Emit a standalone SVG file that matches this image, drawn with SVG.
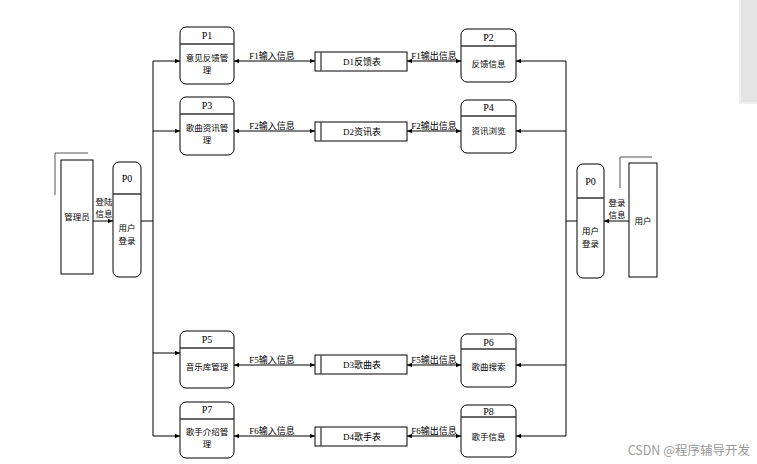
<svg xmlns="http://www.w3.org/2000/svg" width="757" height="464" viewBox="0 0 757 464">
<defs>
<marker id="ah" viewBox="0 0 8 8" refX="8" refY="4" markerWidth="5" markerHeight="5" orient="auto-start-reverse" markerUnits="userSpaceOnUse"><path d="M0,0.5 L8,4 L0,7.5 Z" fill="#000"/></marker>
<style>
.proc{fill:#fff;stroke:#000;stroke-width:1}
.div{stroke:#333;stroke-width:1.5}
.ent{fill:#fff;stroke:#000;stroke-width:1}
.sh{fill:none;stroke:#555;stroke-width:1}
.ds{fill:#fff;stroke:#000;stroke-width:1}
.dsi{stroke:#555;stroke-width:1.5}
.ln{fill:none;stroke:#000;stroke-width:1}
.a{marker-end:url(#ah)}
.b{marker-start:url(#ah);marker-end:url(#ah)}
.pid{font-family:"Liberation Serif",serif;font-size:10px;text-anchor:middle;fill:#000}
.t{font-family:"Noto Sans CJK SC","Liberation Sans",sans-serif;font-size:8.5px;text-anchor:middle;fill:#000}
.ft{font-family:"Liberation Serif","Noto Sans CJK SC",serif;font-size:9px;text-anchor:middle;fill:#000}
</style>
</defs>
<rect width="757" height="464" fill="#fff"/>
<rect x="740" y="-1" width="18" height="104" fill="#e4e4e4" stroke="#f0f0f0" stroke-width="2"/>

<g id="connectors">
<line class="ln" x1="153" y1="61" x2="153" y2="436"/>
<line class="ln" x1="141" y1="221" x2="153" y2="221"/>
<line class="ln a" x1="153" y1="61" x2="180" y2="61"/>
<line class="ln a" x1="153" y1="131" x2="180" y2="131"/>
<line class="ln a" x1="153" y1="353" x2="180" y2="353"/>
<line class="ln a" x1="153" y1="436" x2="180" y2="436"/>
<line class="ln a" x1="93" y1="221" x2="113" y2="221"/>
<line class="ln" x1="566" y1="61" x2="566" y2="436"/>
<line class="ln" x1="566" y1="221" x2="577" y2="221"/>
<line class="ln a" x1="566" y1="61" x2="516" y2="61"/>
<line class="ln a" x1="566" y1="131" x2="516" y2="131"/>
<line class="ln a" x1="566" y1="365" x2="516" y2="365"/>
<line class="ln a" x1="566" y1="436" x2="516" y2="436"/>
<line class="ln a" x1="629" y1="221" x2="604" y2="221"/>
<line class="ln b" x1="234" y1="61" x2="315" y2="61"/>
<line class="ln b" x1="407" y1="61" x2="461" y2="61"/>
<line class="ln b" x1="234" y1="131" x2="315" y2="131"/>
<line class="ln b" x1="407" y1="131" x2="461" y2="131"/>
<line class="ln b" x1="234" y1="365" x2="315" y2="365"/>
<line class="ln b" x1="407" y1="365" x2="461" y2="365"/>
<line class="ln b" x1="234" y1="436" x2="315" y2="436"/>
<line class="ln b" x1="407" y1="436" x2="461" y2="436"/>
<text class="ft" x="272" y="59">F1输入信息</text>
<text class="ft" x="434" y="59">F1输出信息</text>
<text class="ft" x="272" y="129">F2输入信息</text>
<text class="ft" x="434" y="129">F2输出信息</text>
<text class="ft" x="272" y="363">F5输入信息</text>
<text class="ft" x="434" y="363">F5输出信息</text>
<text class="ft" x="272" y="434">F6输入信息</text>
<text class="ft" x="434" y="434">F6输出信息</text>
<text class="t" x="104" y="205">登陆</text>
<text class="t" x="104" y="217">信息</text>
<text class="t" x="617" y="206">登录</text>
<text class="t" x="617" y="218">信息</text>
</g>

<g id="admin">
<polyline class="sh" points="55,195 55,153 88,153"/>
<rect class="ent" x="61" y="160" width="32" height="114"/>
<text class="t" x="77" y="220">管理员</text>
</g>
<g id="user">
<polyline class="sh" points="620,188 620,157 652,157"/>
<rect class="ent" x="629" y="163" width="28" height="114"/>
<text class="t" x="643" y="224">用户</text>
</g>

<g id="P0L">
<rect class="proc" x="113" y="162" width="28" height="115" rx="6"/>
<line class="div" x1="113" y1="194" x2="141" y2="194"/>
<text class="pid" x="127" y="182">P0</text>
<text class="t" x="127" y="231">用户</text>
<text class="t" x="127" y="244">登录</text>
</g>
<g id="P0R">
<rect class="proc" x="577" y="164" width="27" height="114" rx="6"/>
<line class="div" x1="577" y1="198" x2="604" y2="198"/>
<text class="pid" x="590.500" y="185">P0</text>
<text class="t" x="590.500" y="234">用户</text>
<text class="t" x="590.500" y="247">登录</text>
</g>

<g id="P1">
<rect class="proc" x="180" y="27" width="54" height="57" rx="6"/>
<line class="div" x1="180" y1="44" x2="234" y2="44"/>
<text class="pid" x="207" y="39">P1</text>
<text class="t" x="207" y="61">意见反馈管</text>
<text class="t" x="207" y="73">理</text>
</g>
<g id="P3">
<rect class="proc" x="180" y="97" width="54" height="58" rx="6"/>
<line class="div" x1="180" y1="114" x2="234" y2="114"/>
<text class="pid" x="207" y="109">P3</text>
<text class="t" x="207" y="131">歌曲资讯管</text>
<text class="t" x="207" y="143">理</text>
</g>
<g id="P5">
<rect class="proc" x="180" y="331" width="54" height="57" rx="6"/>
<line class="div" x1="180" y1="348" x2="234" y2="348"/>
<text class="pid" x="207" y="343">P5</text>
<text class="t" x="207" y="370">音乐库管理</text>
</g>
<g id="P7">
<rect class="proc" x="180" y="402" width="54" height="56" rx="6"/>
<line class="div" x1="180" y1="419" x2="234" y2="419"/>
<text class="pid" x="207" y="413">P7</text>
<text class="t" x="207" y="435">歌手介绍管</text>
<text class="t" x="207" y="447">理</text>
</g>

<g id="P2">
<rect class="proc" x="461" y="29" width="55" height="53" rx="6"/>
<line class="div" x1="461" y1="46" x2="516" y2="46"/>
<text class="pid" x="488.500" y="41">P2</text>
<text class="t" x="488.500" y="67">反馈信息</text>
</g>
<g id="P4">
<rect class="proc" x="461" y="100" width="55" height="53" rx="6"/>
<line class="div" x1="461" y1="116" x2="516" y2="116"/>
<text class="pid" x="488.500" y="111">P4</text>
<text class="t" x="488.500" y="134">资讯浏览</text>
</g>
<g id="P6">
<rect class="proc" x="461" y="334" width="55" height="53" rx="6"/>
<line class="div" x1="461" y1="349" x2="516" y2="349"/>
<text class="pid" x="488.500" y="346">P6</text>
<text class="t" x="488.500" y="370">歌曲搜索</text>
</g>
<g id="P8">
<rect class="proc" x="461" y="405" width="55" height="52" rx="6"/>
<line class="div" x1="461" y1="417" x2="516" y2="417"/>
<text class="pid" x="488.500" y="415">P8</text>
<text class="t" x="488.500" y="440">歌手信息</text>
</g>

<g id="D1">
<rect class="ds" x="315" y="52" width="92" height="19"/>
<line class="dsi" x1="321" y1="52" x2="321" y2="71"/>
<text class="ft" x="362" y="65">D1反馈表</text>
</g>
<g id="D2">
<rect class="ds" x="315" y="122" width="92" height="19"/>
<line class="dsi" x1="321" y1="122" x2="321" y2="141"/>
<text class="ft" x="362" y="135">D2资讯表</text>
</g>
<g id="D3">
<rect class="ds" x="315" y="355" width="92" height="19"/>
<line class="dsi" x1="321" y1="355" x2="321" y2="374"/>
<text class="ft" x="362" y="368">D3歌曲表</text>
</g>
<g id="D4">
<rect class="ds" x="315" y="427" width="92" height="19"/>
<line class="dsi" x1="321" y1="427" x2="321" y2="446"/>
<text class="ft" x="362" y="440">D4歌手表</text>
</g>

<text x="750" y="455" font-family="'Noto Sans CJK SC','Liberation Sans',sans-serif" font-size="12.5px" fill="#999" text-anchor="end">CSDN @程序辅导开发</text>
</svg>
